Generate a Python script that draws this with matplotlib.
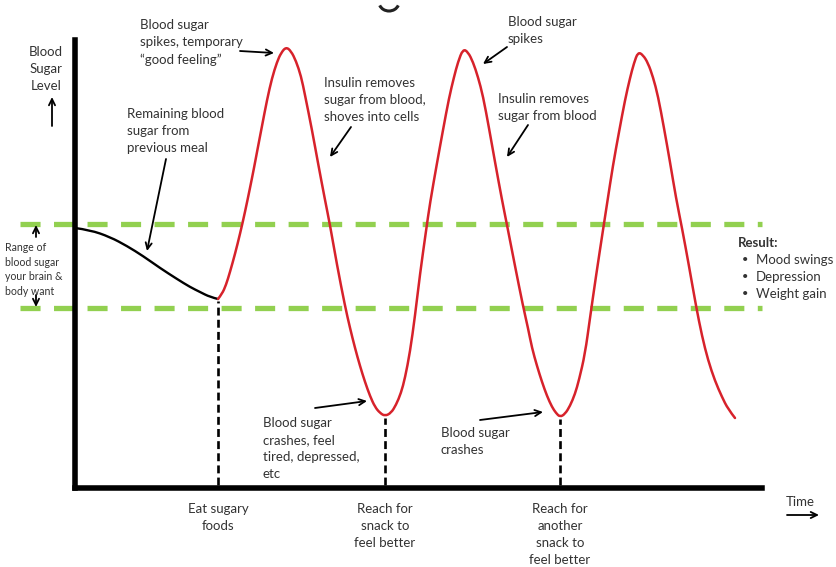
import matplotlib
matplotlib.use('Agg')
import matplotlib.pyplot as plt
from matplotlib.patches import Arc, PathPatch
from matplotlib.path import Path

# Nivel de acucar remanescente da refeicao anterior (tempo, nivel) - unidades arbitrarias
prev_meal_time = [0, 15, 35, 52, 68, 85, 102, 115, 125, 135, 143]
prev_meal_level = [260, 258, 251, 242, 232, 220, 209, 201, 196, 191, 189]

# Montanha russa depois de comer acucar
spike_time = [143, 147, 151, 155, 160, 165, 170, 175, 179, 182, 187, 192, 197, 202, 206, 211,
              216, 221, 226, 230, 237, 243, 250, 255, 262, 270, 275, 280, 285, 290, 295, 300, 305, 310,
              316, 321, 326, 330, 335, 340, 345, 351, 355, 362, 368, 374, 379, 383, 388,
              393, 398, 403, 408, 414, 420, 427, 432, 440, 448, 453, 457, 462, 467, 472, 477, 481, 485,
              490, 495, 500, 504, 510, 515, 521, 528, 532, 538, 544, 550, 555, 559, 563,
              568, 573, 578, 583, 589, 595, 601, 607, 614, 621, 627, 633, 640, 647, 653, 660]
spike_level = [189, 194, 203, 216, 234, 254, 276, 300, 320, 336, 362, 388, 410, 426, 435, 441,
               437, 427, 412, 393, 358, 325, 288, 263, 223, 182, 160, 140, 122, 106, 92, 81, 75, 72,
               75, 83, 95, 110, 136, 172, 214, 257, 285, 325, 358, 390, 411, 426, 439,
               436, 426, 411, 392, 360, 326, 288, 263, 222, 182, 160, 140, 122, 106, 92, 81, 75, 71,
               74, 82, 94, 108, 134, 170, 212, 258, 284, 323, 356, 388, 410, 425, 436,
               433, 425, 411, 392, 360, 326, 290, 260, 222, 182, 152, 128, 107, 91, 79, 70]

# Faixa desejada pelo cerebro e corpo
range_low = 180
range_high = 264

# Eventos no eixo do tempo
event_time = [143, 310, 485]
event_level = [189, 72, 71]
event_labels = ['Eat sugary\nfoods', 'Reach for\nsnack to\nfeel better',
                'Reach for\nanother\nsnack to\nfeel better']

result_items = ['Mood swings', 'Depression', 'Weight gain']

plt.rcParams['font.family'] = ['Lato', 'DejaVu Sans']
txt_color = '#333333'
fs = 9.5
ls = 1.5

fig = plt.figure(figsize=(8.37, 5.67), dpi=100)
ax = fig.add_axes([75 / 837, 79 / 567, 687 / 837, 448 / 567])
ax.set_xlim(0, 687)
ax.set_ylim(0, 448)

# Esconde os eixos que nao existem no desenho
for s in ['top', 'right']:
    ax.spines[s].set_visible(False)
for s in ['left', 'bottom']:
    ax.spines[s].set_linewidth(4.0)
    ax.spines[s].set_color('black')
    ax.spines[s].set_capstyle('projecting')
ax.set_xticks([])
ax.set_yticks([])

# Linhas verdes tracejadas
for lvl in [range_low, range_high]:
    ax.plot([-55, 687], [lvl, lvl], color='#92d050', lw=3.8, dashes=(3.8, 2.55),
            clip_on=False, zorder=1)


def smooth_curve(xs, ys, color, lw):
    # desenha a curva com beziers quadraticas passando pelos pontos medios
    pts = list(zip(xs, ys))
    verts = [pts[0]]
    codes = [Path.MOVETO]
    for i in range(1, len(pts) - 1):
        if i == len(pts) - 2:
            end = pts[-1]
        else:
            end = ((pts[i][0] + pts[i + 1][0]) / 2, (pts[i][1] + pts[i + 1][1]) / 2)
        verts += [pts[i], end]
        codes += [Path.CURVE3, Path.CURVE3]
    patch = PathPatch(Path(verts, codes), facecolor='none', edgecolor=color, lw=lw,
                      capstyle='round', joinstyle='round', zorder=3)
    ax.add_patch(patch)


# Curvas
smooth_curve(prev_meal_time, prev_meal_level, 'black', 1.7)
smooth_curve(spike_time, spike_level, '#d7222b', 1.8)

# Linhas verticais dos eventos + textos
for t, lvl, lab in zip(event_time, event_level, event_labels):
    ax.plot([t, t], [3, lvl - 2], color='black', lw=1.9, dashes=(3.0, 1.6), zorder=2)
    ax.text(t, -15, lab, ha='center', va='top', fontsize=fs, color=txt_color,
            linespacing=ls)


def arrow(tail, head):
    ax.annotate('', xy=head, xytext=tail, annotation_clip=False,
                arrowprops=dict(arrowstyle='->,head_length=0.45,head_width=0.22',
                                lw=1.3, color='black', shrinkA=0, shrinkB=0))


def label(t, lvl, s, size=fs, **kw):
    ax.text(t, lvl, s, ha=kw.pop('ha', 'left'), va='top', fontsize=size, color=txt_color,
            linespacing=kw.pop('linespacing', ls), clip_on=False, **kw)


# Eixo y
label(-29, 442, 'Blood\nSugar\nLevel', ha='center')
arrow((-23, 362), (-23, 391))

# Faixa desejada
label(-70, 246, 'Range of\nblood sugar\nyour brain &\nbody want', size=7.6, linespacing=1.4)
arrow((-39, 251), (-39, 263))
arrow((-39, 193), (-39, 181))

# Anotacoes
label(65, 469, 'Blood sugar\nspikes, temporary\n\u201cgood feeling\u201d')
arrow((165, 437), (199, 435))

label(52, 380, 'Remaining blood\nsugar from\nprevious meal')
arrow((91, 329), (72, 237))

label(249, 411, 'Insulin removes\nsugar from blood,\nshoves into cells')
arrow((276, 361), (255, 331))

label(433, 472, 'Blood sugar\nspikes')
arrow((432, 441), (408, 424))

label(423, 395, 'Insulin removes\nsugar from blood')
arrow((453, 363), (432, 331))

label(188, 71, 'Blood sugar\ncrashes, feel\ntired, depressed,\netc')
arrow((240, 80), (292, 87))

label(366, 61, 'Blood sugar\ncrashes')
arrow((405, 68), (468, 76))

# Resultado
label(663, 251, 'Result:', fontweight='bold')
for i, item in enumerate(result_items):
    lv = 234 - 17 * i
    label(667, lv, '\u2022', size=8)
    label(681, lv, item)

# Tempo
label(725, -8, 'Time', ha='center')
arrow((712, -27), (744, -27))

# Pedaco de figura cortada no topo
ax.add_patch(Arc((314, 486), 20, 18, theta1=200, theta2=340, color='#222222', lw=2.2,
                 clip_on=False))

fig.savefig('out.png', dpi=100)
plt.close('all')
